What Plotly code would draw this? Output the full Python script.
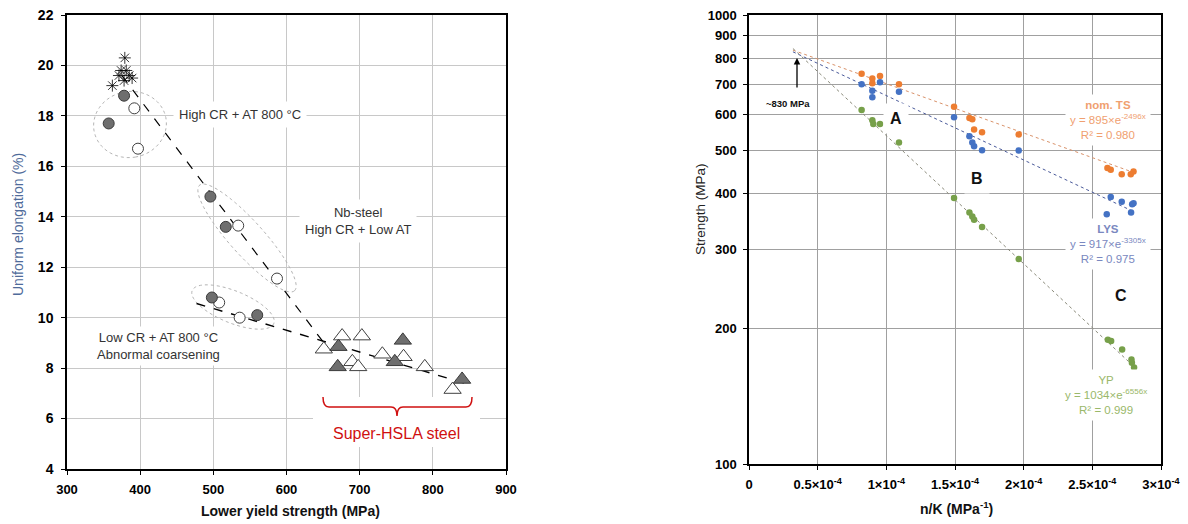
import numpy as np
import plotly.graph_objects as go

W, H = 1188, 524

# ---------------- Left panel data ----------------
star_x = [362, 379, 374, 381, 385, 389, 378, 371]
star_y = [19.2, 20.3, 19.8, 19.8, 19.6, 19.5, 19.4, 19.6]
fcirc_x = [378, 357, 496, 517, 498, 560]
fcirc_y = [18.8, 17.7, 14.8, 13.6, 10.8, 10.1]
ocirc_x = [392, 397, 534, 587, 508, 536]
ocirc_y = [18.3, 16.7, 13.65, 11.55, 10.6, 10.0]
ftri_x = [671, 670, 759, 748, 840]
ftri_y = [8.85, 8.05, 9.1, 8.25, 7.55]
otri_x = [651, 676, 703, 690, 698, 731, 760, 789, 827]
otri_y = [8.75, 9.27, 9.27, 8.25, 8.05, 8.55, 8.45, 8.05, 7.15]
trend1_x = [375, 655]
trend1_y = [19.6, 8.85]
trend2_x = [477, 853]
trend2_y = [10.56, 7.32]
left_xticks = [300, 400, 500, 600, 700, 800, 900]
left_yticks = [4, 6, 8, 10, 12, 14, 16, 18, 20, 22]

# ---------------- Right panel data ----------------
ts_x = [0.82, 0.898, 0.898, 0.954, 1.092, 1.493, 1.605, 1.626, 1.639, 1.697, 1.964, 2.61, 2.634, 2.714, 2.78, 2.80]
ts_y = [740, 722, 705, 731, 701, 625, 590, 586, 556, 548, 542, 456, 452, 442, 442, 448]
lys_x = [0.82, 0.898, 0.898, 0.954, 1.092, 1.493, 1.605, 1.626, 1.639, 1.697, 1.964, 2.634, 2.714, 2.79, 2.80, 2.605, 2.782]
lys_y = [701, 678, 656, 708, 675, 592, 537, 520, 510, 500, 499, 393, 384, 379, 381, 360, 363]
yp_x = [0.82, 0.898, 0.905, 0.954, 1.092, 1.493, 1.605, 1.626, 1.639, 1.697, 1.964, 2.613, 2.637, 2.717, 2.785, 2.788, 2.804]
yp_y = [614, 583, 572, 572, 520, 391, 363, 356, 350, 337, 286, 189, 188, 180, 171, 168, 164]
ts_fit_x = [0.32, 2.80]
ts_fit_y = [835, 446]
lys_fit_x = [0.32, 2.80]
lys_fit_y = [828, 365]
yp_fit_x = [0.32, 2.82]
yp_fit_y = [842, 163]
right_xticks = [0, 0.5, 1, 1.5, 2, 2.5, 3]
right_xticktext = ["0", "0.5×10<sup>-4</sup>", "1×10<sup>-4</sup>", "1.5×10<sup>-4</sup>",
                   "2×10<sup>-4</sup>", "2.5×10<sup>-4</sup>", "3×10<sup>-4</sup>"]
right_yticks = [100, 200, 300, 400, 500, 600, 700, 800, 900, 1000]
X_SCALE = 1e-4

# ---------------- geometry helpers ----------------
LX0, LX1, LY0, LY1 = 67, 506, 15, 469     # left plot area (px)
RX0, RX1, RY0, RY1 = 749, 1161, 15, 464   # right plot area (px)


def lpx(px, py):
    return 300 + (px - LX0) * 600 / (LX1 - LX0), 22 - (py - LY0) * 18 / (LY1 - LY0)


def P(px, py):
    return px / W, 1 - py / H


def ellipse_path(cx, cy, a, b, ang_deg, n=80):
    t = np.linspace(0, 2 * np.pi, n)
    ang = np.deg2rad(ang_deg)
    xs = cx + a * np.cos(t) * np.cos(ang) - b * np.sin(t) * np.sin(ang)
    ys = cy + a * np.cos(t) * np.sin(ang) + b * np.sin(t) * np.cos(ang)
    pts = [lpx(x, y) for x, y in zip(xs, ys)]
    return "M " + " L ".join(f"{x:.3f},{y:.4f}" for x, y in pts) + " Z"


fig = go.Figure()

# ---------------- left traces ----------------
fig.add_trace(go.Scatter(x=trend1_x, y=trend1_y, mode="lines",
                         line=dict(color="black", dash="dash", width=1.2), xaxis="x", yaxis="y"))
fig.add_trace(go.Scatter(x=trend2_x, y=trend2_y, mode="lines",
                         line=dict(color="black", dash="dash", width=1.4), xaxis="x", yaxis="y"))
fig.add_trace(go.Scatter(x=star_x, y=star_y, mode="markers",
                         marker=dict(symbol="asterisk-open", size=10, color="black",
                                     line=dict(color="#222222", width=0.8)),
                         xaxis="x", yaxis="y"))
fig.add_trace(go.Scatter(x=ocirc_x, y=ocirc_y, mode="markers",
                         marker=dict(symbol="circle", size=11, color="white", line=dict(color="#404040", width=1)),
                         xaxis="x", yaxis="y"))
fig.add_trace(go.Scatter(x=fcirc_x, y=fcirc_y, mode="markers",
                         marker=dict(symbol="circle", size=11, color="#6e6e6e", line=dict(color="#3a3a3a", width=1)),
                         xaxis="x", yaxis="y"))
fig.add_trace(go.Scatter(x=otri_x, y=otri_y, mode="markers",
                         marker=dict(symbol="triangle-up", size=15, color="white", line=dict(color="#404040", width=1)),
                         xaxis="x", yaxis="y"))
fig.add_trace(go.Scatter(x=ftri_x, y=ftri_y, mode="markers",
                         marker=dict(symbol="triangle-up", size=15, color="#6e6e6e", line=dict(color="#3a3a3a", width=1)),
                         xaxis="x", yaxis="y"))

# ---------------- right traces ----------------
def sx(v):
    return [x * X_SCALE for x in v]


fig.add_trace(go.Scatter(x=sx(ts_fit_x), y=ts_fit_y, mode="lines",
                         line=dict(color="#d9926a", dash="dot", width=1), xaxis="x2", yaxis="y2"))
fig.add_trace(go.Scatter(x=sx(lys_fit_x), y=lys_fit_y, mode="lines",
                         line=dict(color="#4a5a9a", dash="dot", width=1), xaxis="x2", yaxis="y2"))
fig.add_trace(go.Scatter(x=sx(yp_fit_x), y=yp_fit_y, mode="lines",
                         line=dict(color="#8a8a7a", dash="dot", width=1), xaxis="x2", yaxis="y2"))
fig.add_trace(go.Scatter(x=sx(ts_x), y=ts_y, mode="markers",
                         marker=dict(size=6.5, color="#ed7d31"), xaxis="x2", yaxis="y2"))
fig.add_trace(go.Scatter(x=sx(lys_x), y=lys_y, mode="markers",
                         marker=dict(size=6.5, color="#4472c4"), xaxis="x2", yaxis="y2"))
fig.add_trace(go.Scatter(x=sx(yp_x), y=yp_y, mode="markers",
                         marker=dict(size=6.5, color="#77a04a"), xaxis="x2", yaxis="y2"))

# ---------------- shapes ----------------
shapes = []
ell = dict(type="path", xref="x", yref="y", layer="between",
           line=dict(color="#b4b4b4", width=1, dash="dot"))
shapes.append(dict(ell, path=ellipse_path(130, 124.5, 33, 36.5, 80)))
shapes.append(dict(ell, path=ellipse_path(247, 238, 71, 17, 48)))
shapes.append(dict(ell, path=ellipse_path(233, 307, 44, 16, 22)))

# white area behind the bracket label
bx0, by0 = lpx(313, 397)
bx1, by1 = lpx(480, 447)
shapes.append(dict(type="rect", xref="x", yref="y", layer="between", x0=bx0, x1=bx1, y0=by1, y1=by0,
                   fillcolor="white", line=dict(width=0)))

# red curly bracket
bpts = {k: lpx(*v) for k, v in {
    "a": (323, 397), "b": (323, 407), "c": (329, 407), "d": (391, 407),
    "e": (397, 407), "f": (397, 416), "g": (403, 407), "h": (466, 407),
    "i": (472, 407), "j": (472, 397)}.items()}
bp = lambda k: f"{bpts[k][0]:.3f},{bpts[k][1]:.4f}"
bracket = (f"M {bp('a')} Q {bp('b')} {bp('c')} L {bp('d')} Q {bp('e')} {bp('f')} "
           f"Q {bp('e')} {bp('g')} L {bp('h')} Q {bp('i')} {bp('j')}")
shapes.append(dict(type="path", xref="x", yref="y", path=bracket, layer="above",
                   line=dict(color="#d01010", width=1.5)))

# ---------------- annotations ----------------
ann = []
FONT = "Liberation Sans, Arial, sans-serif"


def A(px, py, text, size=13, color="#333333", bg=None, **kw):
    x, y = P(px, py)
    d = dict(x=x, y=y, xref="paper", yref="paper", text=text, showarrow=False,
             font=dict(family=FONT, size=size, color=color), xanchor="center", yanchor="middle")
    if bg:
        d["bgcolor"] = bg
        d["borderpad"] = kw.pop("pad", 3)
    d.update(kw)
    ann.append(d)


# left panel labels
A(240, 115, "High CR + AT 800 °C", 13, bg="white", pad=5)
A(358, 221, "Nb-steel<br>High CR + Low AT", 13, bg="white", pad=5)
A(158, 346, "Low CR + AT 800 °C<br>Abnormal coarsening", 13, bg="white", pad=3)
A(396, 433, "Super-HSLA steel", 16, color="#d01010")
A(18, 225, "Uniform elongation (%)", 14, color="#4f6b9a", textangle=-90)
A(290, 511, "<b>Lower yield strength (MPa)</b>", 14, color="#111111")

# right panel labels
A(700, 209, "Strength (MPa)", 13.5, color="#222222", textangle=-90)
A(956, 508, "<b>n/K (MPa<sup>-1</sup>)</b>", 14, color="#111111")
A(788, 103, "<b>~830 MPa</b>", 9.5, color="#111111")
tipx, tipy = P(797, 58)
ann.append(dict(x=tipx, y=tipy, xref="paper", yref="paper", text="", showarrow=True,
                ax=0, ay=31, arrowhead=2, arrowsize=1, arrowwidth=1.3, arrowcolor="black"))
A(896, 118, "<b>A</b>", 16, color="#111111", bg="white", pad=6)
A(977, 178, "<b>B</b>", 16, color="#111111", bg="white", pad=6)
A(1121, 295, "<b>C</b>", 16, color="#111111", bg="white", pad=6)
A(1108, 120, "<b>nom. TS</b><br>y = 895×e<sup>-2496x</sup><br>R² = 0.980", 11.5, color="#f0a070", bg="white", pad=4)
A(1108, 244, "<b>LYS</b><br>y = 917×e<sup>-3305x</sup><br>R² = 0.975", 11.5, color="#7a88c0", bg="white", pad=4)
A(1106, 395, "YP<br>y = 1034×e<sup>-6556x</sup><br>R² = 0.999", 11.5, color="#9ab86a", bg="white", pad=4)

tickfont = dict(family=FONT, size=13, color="black")
common_axis = dict(showline=True, mirror=True, linecolor="black", linewidth=1.5, zeroline=False,
                   ticks="outside", ticklen=4, tickcolor="black", tickfont=tickfont, automargin=False)

fig.update_layout(
    width=W, height=H, margin=dict(l=0, r=0, t=0, b=0, pad=0), autosize=False,
    paper_bgcolor="white", plot_bgcolor="white", showlegend=False,
    shapes=shapes, annotations=ann,
    xaxis=dict(common_axis, domain=[LX0 / W, LX1 / W], range=[300, 900], anchor="y",
               tickvals=left_xticks, ticktext=[f"<b>{v}</b>" for v in left_xticks],
               showgrid=True, gridcolor="#c8c8c8", gridwidth=1, ticklabelstandoff=4),
    yaxis=dict(common_axis, domain=[1 - LY1 / H, 1 - LY0 / H], range=[4, 22], anchor="x",
               tickvals=left_yticks, ticktext=[f"<b>{v}</b>" for v in left_yticks],
               tickfont=dict(family=FONT, size=14, color="black"),
               showgrid=True, gridcolor="#c8c8c8", gridwidth=1, ticklabelstandoff=5),
    xaxis2=dict(common_axis, domain=[RX0 / W, RX1 / W], range=[0, 3e-4], anchor="y2",
                tickvals=sx(right_xticks), ticktext=[f"<b>{t}</b>" for t in right_xticktext],
                showgrid=True, gridcolor="#a0a0a0", gridwidth=1, ticklabelstandoff=4),
    yaxis2=dict(common_axis, domain=[1 - RY1 / H, 1 - RY0 / H], type="log", range=[2, 3], anchor="x2",
                tickvals=right_yticks, ticktext=[f"<b>{v}</b>" for v in right_yticks],
                showgrid=True, gridcolor="#a0a0a0", gridwidth=1, ticklabelstandoff=4),
)

fig.write_html("out.html")
